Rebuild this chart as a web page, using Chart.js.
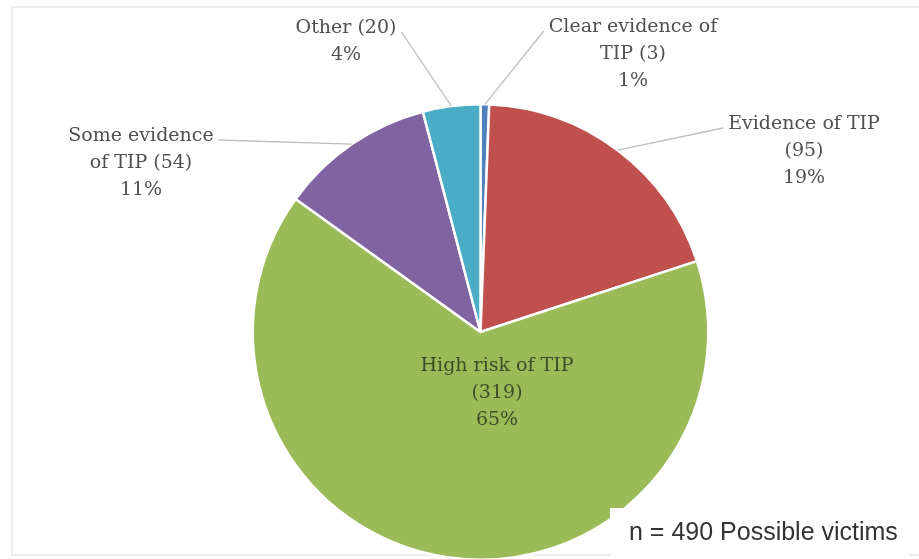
<!DOCTYPE html>
<html>
<head>
<meta charset="utf-8">
<script src="https://cdn.jsdelivr.net/npm/chart.js@4/dist/chart.umd.min.js"></script>
<style>
  html, body { margin: 0; padding: 0; background: #fff; overflow: hidden; }
  #wrap { position: relative; width: 919px; height: 580px; }
</style>
</head>
<body>
<div id="wrap"><canvas id="chart"></canvas></div>
<script>
// Data
const categories = ["Clear evidence of TIP", "Evidence of TIP", "High risk of TIP", "Some evidence of TIP", "Other"];
const counts = [3, 95, 319, 54, 20];
const percents = ["1%", "19%", "65%", "11%", "4%"];
const labelLines = [
  ["Clear evidence of", "TIP (3)", "1%"],
  ["Evidence of TIP", "(95)", "19%"],
  ["High risk of TIP", "(319)", "65%"],
  ["Some evidence", "of TIP (54)", "11%"],
  ["Other (20)", "4%"]
];
const sliceColors = ["#4f81bd", "#c0504d", "#9bbb59", "#8064a2", "#4bacc6"];
const noteText = "n = 490 Possible victims";

// where each label block sits (centre x, first line y) and which side the leader leaves from
const labelPos = [
  { x: 633, y: 27, side: "left" },
  { x: 804, y: 124, side: "left" },
  { x: 497, y: 366, side: null },
  { x: 141, y: 136, side: "right" },
  { x: 346, y: 28, side: "right" }
];

// Labels + leader lines + note box
const pieLabels = {
  id: "pieLabels",
  beforeDraw(chart) {
    const ctx = chart.ctx;
    ctx.save();
    ctx.strokeStyle = "#ececec";
    ctx.lineWidth = 2;
    ctx.strokeRect(12, 7, 930, 548);
    ctx.restore();
  },
  afterDatasetsDraw(chart) {
    const ctx = chart.ctx;
    const arcs = chart.getDatasetMeta(0).data;
    ctx.save();
    ctx.font = "19px 'DejaVu Serif'";
    ctx.textAlign = "center";
    ctx.textBaseline = "middle";
    const lh = 27;

    arcs.forEach((arc, i) => {
      const pos = labelPos[i];
      const lines = labelLines[i];
      if (pos.side) {
        const mid = (arc.startAngle + arc.endAngle) / 2;
        const ex = arc.x + Math.cos(mid) * arc.outerRadius;
        const ey = arc.y + Math.sin(mid) * arc.outerRadius;
        const w = ctx.measureText(lines[0]).width;
        const sx = pos.side === "left" ? pos.x - w / 2 - 5 : pos.x + w / 2 + 5;
        const sy = pos.y + 4;
        ctx.strokeStyle = "#bfbfbf";
        ctx.lineWidth = 1.3;
        ctx.beginPath();
        ctx.moveTo(sx, sy);
        ctx.lineTo(ex, ey);
        ctx.stroke();
        ctx.fillStyle = "#505050";
      } else {
        ctx.fillStyle = "#3f4c27";
      }
      lines.forEach((t, k) => ctx.fillText(t, pos.x, pos.y + k * lh));
    });

    // white box over the bottom right of the pie with the sample note
    ctx.fillStyle = "#fff";
    ctx.fillRect(610, 508, 300, 60);
    ctx.fillStyle = "#333333";
    ctx.font = "25px 'Liberation Sans'";
    ctx.textAlign = "left";
    ctx.fillText(noteText, 629, 533);
    ctx.restore();
  }
};

new Chart(document.getElementById("chart"), {
  type: "pie",
  data: {
    labels: categories,
    datasets: [{
      data: counts,
      backgroundColor: sliceColors,
      borderColor: "#ffffff",
      borderWidth: 2.5
    }]
  },
  options: {
    responsive: true,
    maintainAspectRatio: false,
    animation: false,
    layout: { padding: { top: 103, bottom: 19, left: 42, right: 0 } },
    plugins: {
      legend: { display: false },
      tooltip: { enabled: false }
    }
  },
  plugins: [pieLabels]
});
</script>
</body>
</html>
